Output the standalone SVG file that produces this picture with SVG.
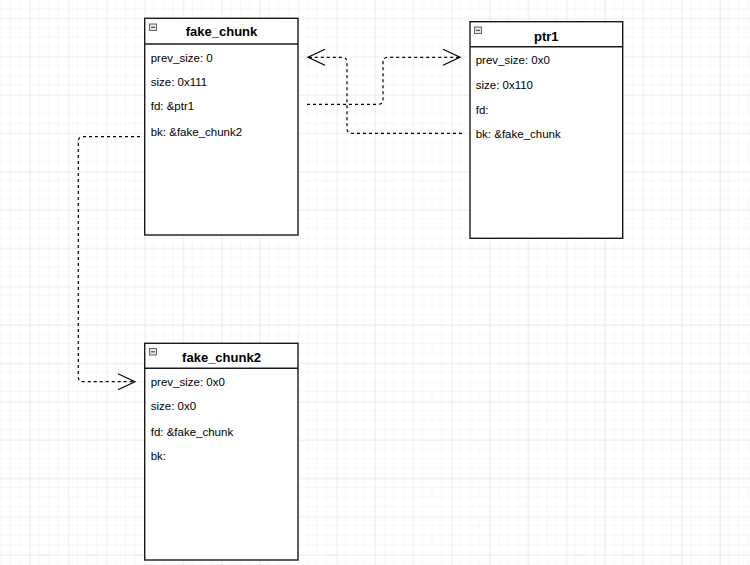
<svg xmlns="http://www.w3.org/2000/svg" width="750" height="565" viewBox="0 0 750 565">
<defs>
<pattern id="minor" width="9.583" height="9.583" patternUnits="userSpaceOnUse" patternTransform="translate(30 18.3)">
<path d="M9.583 0V9.583M0 9.583H9.583" fill="none" stroke="#f0f0f0" stroke-width="1"/>
</pattern>
<pattern id="major" width="38.333" height="38.333" patternUnits="userSpaceOnUse" patternTransform="translate(30 18.3)">
<path d="M0 0V38.333M0 0H38.333" fill="none" stroke="#e4e4e4" stroke-width="1"/>
</pattern>
<marker id="open" viewBox="0 0 20 20" refX="18" refY="10" markerWidth="20" markerHeight="20" markerUnits="userSpaceOnUse" orient="auto-start-reverse">
<path d="M1 2L18 10L1 18" fill="none" stroke="#000" stroke-width="1.2" stroke-dasharray="none"/>
</marker>
</defs>
<style>
.box{fill:#fff;stroke:#1a1a1a;stroke-width:1.4}
.sep{stroke:#1a1a1a;stroke-width:1.4}
.title{font-family:"Liberation Sans",Arial,sans-serif;font-size:13px;font-weight:bold;text-anchor:middle;fill:#000}
.row{font-family:"Liberation Sans",Arial,sans-serif;font-size:11.5px;fill:#000}
.icon{fill:#e6e6e6;stroke:#555;stroke-width:0.9}
.minus{stroke:#333;stroke-width:1}
.edge{fill:none;stroke:#000;stroke-width:1.2;stroke-dasharray:3 3}
</style>
<rect width="750" height="565" fill="#fff"/>
<rect width="750" height="565" fill="url(#minor)"/>
<rect width="750" height="565" fill="url(#major)"/>

<g id="connectors">
<path class="edge" d="M307 104.3H378Q383 104.3 383 99.3V62.3Q383 57.3 388 57.3H460" marker-end="url(#open)"/>
<path class="edge" d="M462 133.3H352Q347 133.3 347 128.3V62.3Q347 57.3 342 57.3H308" marker-end="url(#open)"/>
<path class="edge" d="M140 136.7H83Q78.3 136.7 78.3 141.7V376.7Q78.3 381.7 83.3 381.7H135" marker-end="url(#open)"/>
</g>

<g id="fake_chunk">
<rect class="box" x="144.7" y="18.3" width="153.3" height="216.7"/>
<line class="sep" x1="144.7" y1="44" x2="298" y2="44"/>
<rect class="icon" x="149.5" y="24" width="7" height="6.5"/>
<line class="minus" x1="151" y1="27.3" x2="155" y2="27.3"/>
<text class="title" x="221.5" y="36.3">fake_chunk</text>
<text class="row" x="150.7" y="61.5">prev_size: 0</text>
<text class="row" x="150.7" y="85.9">size: 0x111</text>
<text class="row" x="150.7" y="110.2">fd: &amp;ptr1</text>
<text class="row" x="150.7" y="135.9">bk: &amp;fake_chunk2</text>
</g>

<g id="ptr1">
<rect class="box" x="470" y="21.7" width="152.7" height="216.6"/>
<line class="sep" x1="470" y1="46.7" x2="622.7" y2="46.7"/>
<rect class="icon" x="474.5" y="27" width="7" height="6.5"/>
<line class="minus" x1="476" y1="30.3" x2="480" y2="30.3"/>
<text class="title" x="546.3" y="40.5">ptr1</text>
<text class="row" x="475.7" y="63.5">prev_size: 0x0</text>
<text class="row" x="475.7" y="89.2">size: 0x110</text>
<text class="row" x="475.7" y="113.5">fd:</text>
<text class="row" x="475.7" y="138.2">bk: &amp;fake_chunk</text>
</g>

<g id="fake_chunk2">
<rect class="box" x="144.7" y="343.3" width="153.3" height="216.7"/>
<line class="sep" x1="144.7" y1="368.3" x2="298" y2="368.3"/>
<rect class="icon" x="149.5" y="348.5" width="7" height="6.5"/>
<line class="minus" x1="151" y1="351.8" x2="155" y2="351.8"/>
<text class="title" x="221.5" y="361.8">fake_chunk2</text>
<text class="row" x="150.7" y="385.9">prev_size: 0x0</text>
<text class="row" x="150.7" y="410.2">size: 0x0</text>
<text class="row" x="150.7" y="435.9">fd: &amp;fake_chunk</text>
<text class="row" x="150.7" y="459.9">bk:</text>
</g>
</svg>
